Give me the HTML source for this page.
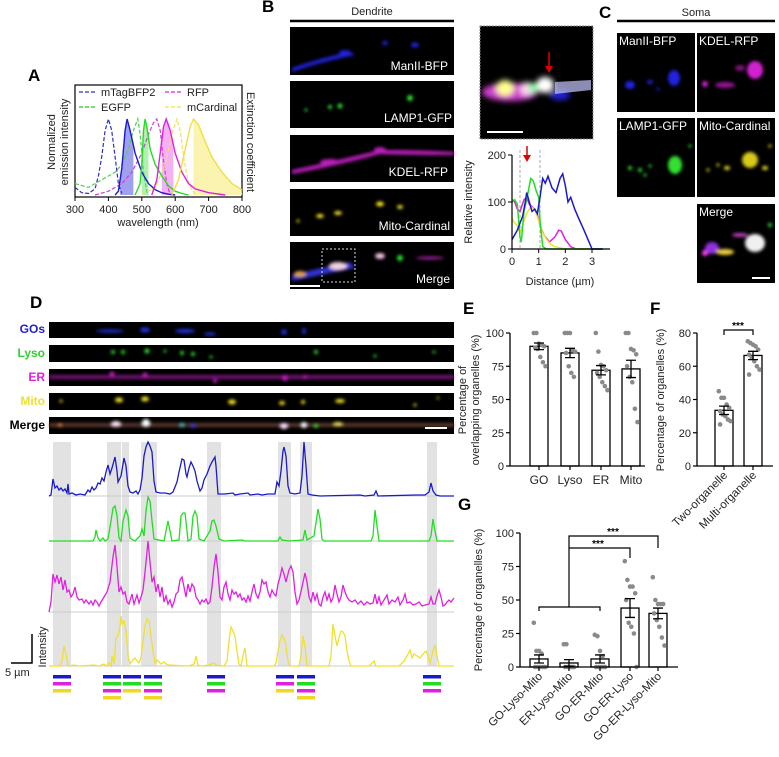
<!DOCTYPE html>
<html><head><meta charset="utf-8"><style>
html,body{margin:0;padding:0;background:#fff;}
svg{display:block;font-family:"Liberation Sans",Arial,sans-serif;}
.lbl{font-weight:bold;font-size:17px;}
.t{font-size:11px;fill:#222;}
.w{font-size:12px;fill:#fff;}
</style></head><body>
<svg id="fig" width="779" height="757" viewBox="0 0 779 757" xmlns="http://www.w3.org/2000/svg">
<defs><filter id="bl" x="-50%" y="-50%" width="200%" height="200%"><feGaussianBlur stdDeviation="1.6"/></filter>
<filter id="bl2" x="-50%" y="-50%" width="200%" height="200%"><feGaussianBlur stdDeviation="3"/></filter></defs>

<text class="lbl" x="28" y="81">A</text>
<text class="lbl" x="262" y="12">B</text>
<text class="lbl" x="599" y="18">C</text>
<text class="lbl" x="30" y="308">D</text>
<text class="lbl" x="463" y="314">E</text>
<text class="lbl" x="650" y="314">F</text>
<text class="lbl" x="458" y="510">G</text>

<g>
<rect x="75" y="85" width="167" height="112" fill="none" stroke="#000" stroke-width="1.2"/>
<g id="specA"></g>
<g>
<line x1="79" y1="92" x2="97" y2="92" stroke="#3030c0" stroke-width="1.3" stroke-dasharray="4,2"/>
<text class="t" x="101" y="96">mTagBFP2</text>
<line x1="79" y1="107" x2="97" y2="107" stroke="#22cc22" stroke-width="1.3" stroke-dasharray="4,2"/>
<text class="t" x="101" y="111">EGFP</text>
<line x1="165" y1="92" x2="182" y2="92" stroke="#e020e0" stroke-width="1.3" stroke-dasharray="4,2"/>
<text class="t" x="187" y="96">RFP</text>
<line x1="165" y1="107" x2="182" y2="107" stroke="#f0e040" stroke-width="1.3" stroke-dasharray="4,2"/>
<text class="t" x="187" y="111">mCardinal</text>
</g>
<text class="t" transform="translate(55,142) rotate(-90)" text-anchor="middle">Normalized</text>
<text class="t" transform="translate(68,142) rotate(-90)" text-anchor="middle">emission intensity</text>
<text class="t" transform="translate(247,142) rotate(90)" text-anchor="middle">Extinction coefficient</text>
<text class="t" x="158" y="226" text-anchor="middle">wavelength (nm)</text>
</g>

<g>
<text class="t" x="372" y="15" text-anchor="middle">Dendrite</text>
<line x1="290" y1="21" x2="454" y2="21" stroke="#000" stroke-width="2.5"/>
<g><rect x="290" y="27" width="164" height="48" fill="#000"/>
<g filter="url(#bl)" fill="#2020e0"><path d="M292 68 Q320 58 350 52 L355 55 Q320 62 292 72Z"/><ellipse cx="345" cy="53" rx="6" ry="3"/><ellipse cx="385" cy="43" rx="3" ry="2"/><ellipse cx="415" cy="45" rx="4" ry="2.5"/></g>
<text class="w" x="448" y="70" text-anchor="end">ManII-BFP</text></g>
<g><rect x="290" y="81" width="164" height="47" fill="#000"/>
<g filter="url(#bl)" fill="#30e030"><circle cx="306" cy="110" r="1.5"/><circle cx="330" cy="107" r="2"/><circle cx="340" cy="106" r="2.5"/><circle cx="410" cy="98" r="3"/></g>
<text class="w" x="452" y="122" text-anchor="end">LAMP1-GFP</text></g>
<g><rect x="290" y="135" width="164" height="47" fill="#000"/>
<g filter="url(#bl)" fill="#d020d0" opacity="0.9"><path d="M292 170 Q340 160 380 150 Q420 150 454 152 L454 155 Q400 155 380 154 Q340 165 292 174Z"/><ellipse cx="330" cy="162" rx="10" ry="3"/><ellipse cx="380" cy="150" rx="6" ry="3"/></g>
<text class="w" x="448" y="176" text-anchor="end">KDEL-RFP</text></g>
<g><rect x="290" y="189" width="164" height="47" fill="#000"/>
<g filter="url(#bl)" fill="#f0e020"><circle cx="298" cy="221" r="1.5"/><ellipse cx="320" cy="216" rx="4" ry="2"/><ellipse cx="338" cy="213" rx="4" ry="2"/><ellipse cx="380" cy="204" rx="4" ry="2.5"/><ellipse cx="400" cy="207" rx="3" ry="2"/></g>
<text class="w" x="450" y="230" text-anchor="end">Mito-Cardinal</text></g>
<g><rect x="290" y="242" width="164" height="47" fill="#000"/>
<g filter="url(#bl)"><path d="M292 275 Q320 268 350 262 L355 268 Q320 275 292 281Z" fill="#3030d0"/><ellipse cx="300" cy="274" rx="6" ry="3" fill="#e0a040"/><ellipse cx="338" cy="266" rx="9" ry="4" fill="#f0d0e0"/><ellipse cx="380" cy="256" rx="5" ry="3" fill="#f0c0e0"/><ellipse cx="400" cy="258" rx="3" ry="3" fill="#30e030"/><ellipse cx="430" cy="258" rx="14" ry="1.5" fill="#a020a0"/></g>
<rect x="322" y="249" width="33" height="33" fill="none" stroke="#ddd" stroke-dasharray="2,2"/>
<line x1="290" y1="286" x2="320" y2="286" stroke="#fff" stroke-width="2"/>
<text class="w" x="450" y="283" text-anchor="end">Merge</text></g>
<g><rect x="480" y="26" width="113" height="113" fill="#000" stroke="#888" stroke-dasharray="2,1"/>
<g filter="url(#bl2)"><ellipse cx="510" cy="92" rx="28" ry="9" fill="#d040d0"/><ellipse cx="505" cy="88" rx="9" ry="8" fill="#ffff90"/><ellipse cx="527" cy="89" rx="7" ry="7" fill="#ffd0f0"/><ellipse cx="545" cy="85" rx="9" ry="8" fill="#ffffff"/><ellipse cx="560" cy="95" rx="10" ry="5" fill="#2020e0"/><ellipse cx="533" cy="88" rx="5" ry="5" fill="#80ffa0"/></g>
<polygon points="555,82 591,80 591,90 555,94" fill="#c8c8ff" opacity="0.7"/>
<line x1="549" y1="52" x2="549" y2="70" stroke="#e00000" stroke-width="1.5"/><polygon points="545,66 553,66 549,73" fill="#e00000"/>
<line x1="487" y1="132" x2="523" y2="132" stroke="#fff" stroke-width="2"/></g>
<g id="profB"></g>
<text class="t" transform="translate(472,202) rotate(-90)" text-anchor="middle">Relative intensity</text>
<text class="t" x="560" y="285" text-anchor="middle">Distance (µm)</text>
<line x1="527" y1="146" x2="527" y2="159" stroke="#e00000" stroke-width="1.5"/>
<polygon points="523,155 531,155 527,162" fill="#e00000"/>
</g>

<g>
<text class="t" x="696" y="16" text-anchor="middle">Soma</text>
<line x1="617" y1="21" x2="775" y2="21" stroke="#000" stroke-width="2.5"/>
<g><rect x="617" y="33" width="78" height="79" fill="#000"/>
<g filter="url(#bl)" fill="#2020e0"><ellipse cx="630" cy="85" rx="5" ry="4"/><ellipse cx="674" cy="78" rx="6" ry="8"/><ellipse cx="650" cy="82" rx="3" ry="2"/><circle cx="658" cy="89" r="1.5"/></g>
<text class="w" x="619" y="45">ManII-BFP</text></g>
<g><rect x="697" y="33" width="78" height="79" fill="#000"/>
<g filter="url(#bl)" fill="#d020d0"><circle cx="705" cy="84" r="3"/><ellipse cx="755" cy="70" rx="8" ry="9"/><ellipse cx="725" cy="85" rx="10" ry="3" opacity="0.7"/><ellipse cx="740" cy="68" rx="5" ry="3" opacity="0.6"/></g>
<text class="w" x="699" y="45">KDEL-RFP</text></g>
<g><rect x="617" y="118" width="78" height="79" fill="#000"/>
<g filter="url(#bl)" fill="#30e030"><circle cx="630" cy="168" r="2"/><circle cx="640" cy="170" r="2"/><circle cx="650" cy="166" r="1.5"/><ellipse cx="675" cy="165" rx="7" ry="9"/><circle cx="690" cy="146" r="1.5"/><circle cx="645" cy="175" r="1.5"/></g>
<text class="w" x="619" y="130">LAMP1-GFP</text></g>
<g><rect x="697" y="118" width="78" height="79" fill="#000"/>
<g filter="url(#bl)" fill="#f0e020"><circle cx="708" cy="170" r="1.5"/><circle cx="718" cy="165" r="1.5"/><ellipse cx="727" cy="168" rx="3" ry="2"/><ellipse cx="750" cy="160" rx="8" ry="8" opacity="0.9"/><ellipse cx="765" cy="168" rx="3" ry="2"/><circle cx="770" cy="146" r="1.5"/></g>
<text class="w" x="699" y="130">Mito-Cardinal</text></g>
<g><rect x="697" y="204" width="78" height="79" fill="#000"/>
<g filter="url(#bl)"><ellipse cx="712" cy="248" rx="7" ry="6" fill="#9030e0"/><ellipse cx="705" cy="253" rx="3" ry="3" fill="#ff40ff"/><ellipse cx="755" cy="243" rx="10" ry="9" fill="#f0f0f0"/><ellipse cx="725" cy="252" rx="9" ry="3" fill="#f0d040"/><circle cx="770" cy="225" r="2" fill="#30e030"/><ellipse cx="740" cy="235" rx="8" ry="2" fill="#c040c0"/></g>
<line x1="752" y1="278" x2="770" y2="278" stroke="#fff" stroke-width="2"/>
<text class="w" x="699" y="216">Merge</text></g>
</g>

<g>
<text x="45" y="333" text-anchor="end" font-size="12" font-weight="bold" fill="#2020d0">GOs</text>
<text x="45" y="357" text-anchor="end" font-size="12" font-weight="bold" fill="#30d030">Lyso</text>
<text x="45" y="381" text-anchor="end" font-size="12" font-weight="bold" fill="#e020e0">ER</text>
<text x="45" y="405" text-anchor="end" font-size="12" font-weight="bold" fill="#f0e030">Mito</text>
<text x="45" y="429" text-anchor="end" font-size="12" font-weight="bold" fill="#000">Merge</text>
<g><rect x="49" y="322" width="405" height="16" fill="#000"/>
<g filter="url(#bl)" fill="#2030e0"><ellipse cx="110" cy="331" rx="14" ry="1.5"/><ellipse cx="145" cy="330" rx="5" ry="2.5"/><ellipse cx="185" cy="331" rx="10" ry="2"/><ellipse cx="210" cy="334" rx="6" ry="1.5"/><ellipse cx="284" cy="332" rx="3" ry="2.5"/><ellipse cx="304" cy="331" rx="2" ry="3"/></g></g>
<g><rect x="49" y="345" width="405" height="17" fill="#000"/>
<g filter="url(#bl)" fill="#30e030"><circle cx="113" cy="352" r="2"/><circle cx="123" cy="352" r="2"/><circle cx="147" cy="351" r="2.5"/><circle cx="165" cy="351" r="1.5"/><circle cx="182" cy="353" r="2"/><circle cx="193" cy="354" r="2"/><circle cx="211" cy="357" r="1.5"/><circle cx="316" cy="352" r="2"/><circle cx="375" cy="356" r="1.5"/><circle cx="434" cy="352" r="1.5"/></g></g>
<g><rect x="49" y="369" width="405" height="17" fill="#000"/>
<g filter="url(#bl)" fill="#c020c0"><rect x="49" y="375" width="405" height="4" opacity="0.6"/><circle cx="112" cy="374" r="2.5"/><circle cx="145" cy="375" r="2.5"/><circle cx="215" cy="381" r="2"/><circle cx="285" cy="378" r="3"/><circle cx="305" cy="377" r="2"/></g></g>
<g><rect x="49" y="393" width="405" height="17" fill="#000"/>
<g filter="url(#bl)" fill="#f0e020"><circle cx="61" cy="401" r="1.5"/><ellipse cx="119" cy="400" rx="4" ry="2.5"/><ellipse cx="145" cy="399" rx="4" ry="2.5"/><ellipse cx="232" cy="402" rx="4" ry="2.5"/><ellipse cx="282" cy="403" rx="3" ry="2"/><circle cx="303" cy="402" r="2"/><ellipse cx="340" cy="401" rx="5" ry="2"/><circle cx="415" cy="405" r="1.5"/><circle cx="438" cy="398" r="1.2"/></g></g>
<g><rect x="49" y="417" width="405" height="17" fill="#000"/>
<g filter="url(#bl)"><rect x="49" y="423" width="405" height="4" fill="#805040" opacity="0.7"/><circle cx="60" cy="425" r="2" fill="#e08040"/><ellipse cx="116" cy="424" rx="5" ry="3" fill="#ffe0f0"/><ellipse cx="146" cy="423" rx="4" ry="4" fill="#ffffff"/><circle cx="182" cy="425" r="2" fill="#30e0e0"/><circle cx="193" cy="426" r="2" fill="#2040ff"/><ellipse cx="284" cy="426" rx="4" ry="3" fill="#ffe0ff"/><ellipse cx="304" cy="425" rx="3" ry="3" fill="#ffffff"/><ellipse cx="338" cy="424" rx="5" ry="2" fill="#f0e060"/><circle cx="316" cy="426" r="2" fill="#30e030"/></g>
<line x1="425" y1="428" x2="447" y2="428" stroke="#fff" stroke-width="2"/></g>
</g>
<g id="traceD"></g>
<g>
<polyline points="32,634 32,663 11,663" fill="none" stroke="#000" stroke-width="1.5"/>
<text class="t" x="5" y="676">5 µm</text>
<text class="t" transform="translate(46,647) rotate(-90)" text-anchor="middle">Intensity</text>
</g>

<g id="barE"></g>
<text class="t" transform="translate(466,400) rotate(-90)" text-anchor="middle">Percentage of</text>
<text class="t" transform="translate(479,400) rotate(-90)" text-anchor="middle">overlapping organelles (%)</text>
<g id="barF"></g>
<text class="t" transform="translate(664,400) rotate(-90)" text-anchor="middle">Percentage of organelles (%)</text>
<g id="barG"></g>
<text class="t" transform="translate(482,600) rotate(-90)" text-anchor="middle">Percentage of organelles (%)</text>
</svg>
<script>
const bfpEmWl=[420,430,440,450,456,465,480,500,520,540,560,580,600];
const bfpEmV=[0,0.05,0.35,0.85,1,0.85,0.55,0.3,0.15,0.07,0.03,0.01,0];
const bfpExWl=[300,320,340,360,370,380,390,400,410,420,430,440];
const bfpExV=[0.1,0.03,0.02,0.08,0.25,0.5,0.85,1,0.85,0.5,0.15,0.02];
const gfpEmWl=[480,495,500,505,510,515,525,540,560,580,600,620,640];
const gfpEmV=[0,0.15,0.4,0.85,1,0.9,0.6,0.4,0.25,0.12,0.05,0.02,0];
const gfpExWl=[300,340,380,420,440,460,475,488,495,505,515,520];
const gfpExV=[0.15,0.1,0.2,0.3,0.4,0.6,0.85,1,0.8,0.3,0.05,0];
const rfpEmWl=[530,545,555,565,573,585,600,620,640,660,700,750];
const rfpEmV=[0,0.2,0.55,0.9,1,0.85,0.55,0.3,0.15,0.08,0.03,0];
const rfpExWl=[360,400,440,470,500,520,535,545,555,565,575,585];
const rfpExV=[0,0.05,0.15,0.3,0.55,0.8,0.95,1,0.85,0.45,0.15,0];
const carEmWl=[590,610,630,645,655,670,690,710,740,770,800];
const carEmV=[0,0.2,0.6,0.9,1,0.92,0.7,0.5,0.3,0.15,0.07];
const carExWl=[500,540,570,590,605,615,625,640,660];
const carExV=[0,0.1,0.4,0.8,1,0.85,0.5,0.15,0];
const bandsA=[[435,475],[500,520],[560,595],[655,800]];
const wlTicks=[300,400,500,600,700,800];

const pBlueD=[0,0.2,0.4,0.5,0.55,0.65,0.75,0.85,0.95,1.05,1.15,1.25,1.35,1.5,1.65,1.8,1.9,2.0,2.1,2.2,2.35,2.5,2.7,2.85,3.0,3.4];
const pBlueV=[20,40,70,100,120,100,80,85,75,110,150,140,155,130,120,150,160,135,100,110,85,65,40,20,0,0];
const pGreenD=[0,0.1,0.2,0.3,0.35,0.45,0.55,0.7,0.8,0.9,1.0,1.05,1.15,1.3,3.4];
const pGreenV=[100,105,95,25,15,80,105,150,145,125,110,60,5,0,0];
const pMagD=[0,0.1,0.2,0.3,0.45,0.55,0.65,0.75,0.85,0.95,1.05,1.2,1.4,1.6,1.75,1.85,2.0,2.2,2.4,3.4];
const pMagV=[105,100,85,80,105,110,95,90,85,75,50,30,15,25,40,38,20,5,0,0];
const pYelD=[0,0.1,0.2,0.3,0.45,0.55,0.7,0.85,1.0,1.15,1.3,1.45,1.6,2.0,3.4];
const pYelV=[65,55,50,35,60,75,90,85,60,35,20,10,5,0,0];
const profXTicks=[0,1,2,3];
const profYTicks=[0,100,200];
const profGuides=[0.3,1.05];

const dBlueS=[0,2,4,6,8,10,12,14,16,18,19,20,23,27,31,36,39,41,43,45,47,49,51,53,55,57,59,61,63,66,68,69,72,75,77,79,81,84,87,89,91,93,95,97,99,101,103,105,107,111,116,121,124,126,128,130,133,135,137,138,140,142,144,146,148,151,153,155,158,161,163,166,167,169,176,184,186,191,199,201,209,213,219,226,228,230,232,234,235,237,239,241,246,251,253,255,257,259,263,271,311,316,325,327,329,367,376,380,382,384,387,391,405];
const dBlueV=[0,1,17,8,10,6,8,5,7,3,12,2,3,1,2,1,6,4,9,6,8,13,12,18,15,24,31,22,28,39,25,14,20,38,30,10,4,3,5,2,6,18,40,49,54,50,44,15,4,3,3,2,4,9,14,24,37,36,22,19,28,34,30,25,15,5,8,16,22,30,34,39,30,2,2,3,1,2,3,1,2,1,2,2,14,10,25,45,49,40,10,3,2,3,20,54,30,2,1,0,1,0,1,5,0,1,1,4,13,5,1,0,0];
const dGreenS=[0,44,46,47,49,51,54,56,59,62,64,66,68,70,72,74,77,79,81,86,91,93,95,97,99,101,103,105,115,117,119,121,123,130,132,134,136,138,139,142,144,146,148,150,155,161,163,165,167,170,175,193,196,229,231,233,240,254,256,258,265,268,269,271,273,275,322,324,326,328,330,380,382,384,386,388,405];
const dGreenV=[0,0,4,11,3,0,3,0,2,20,33,35,25,3,0,20,31,25,3,0,5,12,5,30,44,40,20,2,0,10,20,10,0,1,25,28,28,10,0,2,25,30,25,2,0,10,20,21,15,2,0,1,0,0,4,1,0,1,11,1,5,25,32,22,2,0,0,5,31,15,0,0,5,22,10,0,0];
const dMagS=[0,2,4,6,8,10,12,14,16,18,20,22,24,26,28,30,33,35,37,40,42,44,46,48,50,52,55,58,61,64,66,68,70,72,74,76,78,80,83,85,88,90,92,94,96,98,99,101,103,105,107,109,111,113,115,117,119,121,123,125,127,129,131,133,135,137,139,141,143,145,147,149,151,153,155,157,159,161,163,165,167,169,171,173,175,177,179,181,183,185,187,189,191,193,195,197,199,201,203,205,207,209,211,213,215,217,219,221,223,225,227,229,231,233,235,237,240,242,244,246,248,250,253,256,258,260,262,264,266,268,270,272,274,276,278,280,282,284,286,288,290,292,294,296,298,300,303,306,309,312,315,318,321,324,326,328,330,332,335,338,340,343,346,349,351,354,356,358,361,364,367,370,373,376,380,382,384,386,388,390,392,394,396,398,400,402,405];
const dMagV=[0,10,38,30,37,28,35,22,32,20,22,15,18,25,15,12,13,9,12,8,11,7,12,10,6,10,15,20,30,55,67,45,20,25,18,20,10,8,18,8,17,9,15,22,40,60,71,50,30,35,20,28,15,25,10,16,8,12,5,10,18,20,32,35,25,15,28,20,28,25,15,12,8,12,10,13,8,10,25,45,58,40,15,12,25,30,18,12,22,18,20,15,18,12,14,10,16,11,20,28,18,14,20,32,28,30,20,15,22,18,16,28,35,44,38,30,42,46,40,20,8,12,25,39,30,15,10,20,12,18,8,6,15,20,12,18,10,14,27,18,10,15,27,20,15,12,10,12,8,11,7,10,8,9,18,8,15,7,12,17,8,12,10,15,7,12,18,9,10,7,8,10,6,7,8,15,8,8,16,22,15,6,7,10,12,10,14];
const dYelS=[0,11,13,15,17,19,25,30,45,50,55,57,60,62,63,65,67,69,71,72,73,75,77,79,81,83,86,88,90,92,94,96,98,100,102,104,106,108,110,112,115,117,120,140,145,147,149,152,160,165,167,175,178,180,182,184,186,188,190,192,195,196,197,198,225,227,229,231,233,235,237,239,241,250,252,254,256,258,280,282,284,286,288,290,292,294,296,298,300,302,320,325,327,350,355,358,361,363,365,368,371,374,377,379,381,384,386,388,390,405];
const dYelV=[0,0,5,20,12,0,1,0,1,0,2,0,3,0,10,2,28,30,40,50,42,45,35,10,2,5,8,5,3,8,25,40,47,45,30,15,3,6,4,2,4,2,1,0,2,10,1,0,1,3,1,0,5,25,39,35,30,15,2,0,15,18,8,0,0,3,15,25,31,28,20,5,0,0,10,30,20,0,0,10,42,30,20,28,35,34,30,15,5,0,0,5,0,0,5,10,16,8,12,10,8,12,15,10,3,15,21,10,0,0];
const overlapStart=[4,58,73,92,158,229,251,378];
const overlapEnd=[22,72,80,108,172,242,263,388];
const groupStart=[4,54,74,95,158,227,248,374];
const groupChannels=[[1,0,1,1],[1,1,1,1],[1,1,0,1],[1,1,1,1],[1,1,1,0],[1,0,1,1],[1,1,1,1],[1,1,1,0]];

const eCats=['GO','Lyso','ER','Mito'];
const eMeans=[90,85,72,73];
const eSem=[2.5,3.5,3.5,6.5];
const ePts=[[100,100,92,91,90,89,88,82,78,75],[100,100,100,87,86,85,75,70,67],[100,86,76,75,72,70,67,63,60,57],[100,100,88,87,84,75,67,63,43,33]];
const eTicks=[0,25,50,75,100];
const fCats=['Two-organelle','Multi-organelle'];
const fMeans=[33.5,66.5];
const fSem=[2.5,2.5];
const fPts=[[45,41,41,37,35,33,31,30,28,27,25],[75,74,73,72,70,67,65,63,60,58,55]];
const fTicks=[0,20,40,60,80];
const gCats=['GO-Lyso-Mito','ER-Lyso-Mito','GO-ER-Mito','GO-ER-Lyso','GO-ER-Lyso-Mito'];
const gMeans=[6,3,6,44,40];
const gSem=[3,2.5,3,7,4];
const gPts=[[33,12,12,10,0,0,0,0,0,0],[17,17,0,0,0,0,0,0,0],[24,23,12,8,0,0,0,0,0],[79,65,60,60,55,50,33,30,25,0],[67,50,47,47,47,40,35,30,22,16]];
const gTicks=[0,25,50,75,100];

const NS='http://www.w3.org/2000/svg';
function add(tag,attrs,parent){const e=document.createElementNS(NS,tag);for(const k in attrs)e.setAttribute(k,attrs[k]);parent.appendChild(e);return e;}
function pathOf(xs,ys,fx,fy){return xs.map((v,i)=>(i?'L':'M')+fx(v).toFixed(1)+' '+fy(ys[i]).toFixed(1)).join(' ');}
function interp(xs,ys,x){if(x<=xs[0])return ys[0];for(let i=1;i<xs.length;i++){if(x<=xs[i]){const t=(x-xs[i-1])/(xs[i]-xs[i-1]);return ys[i-1]+t*(ys[i]-ys[i-1]);}}return ys[ys.length-1];}

const gA=document.getElementById('specA');
const xA=w=>75+(w-300)*167/500, yA=v=>195-v*76;
const emis=[[bfpEmWl,bfpEmV,'#1a1ad0','#a0a0f0'],[gfpEmWl,gfpEmV,'#20dd20','#b0f0b0'],[rfpEmWl,rfpEmV,'#e020e0','#f5b0f5'],[carEmWl,carEmV,'#f0e040','#fbf3b0']];
emis.forEach((s,i)=>{const b=bandsA[i];const xs=[b[0]];const ys=[0];for(let w=b[0];w<=b[1];w+=2){xs.push(w);ys.push(interp(s[0],s[1],w));}xs.push(b[1]);ys.push(0);
 const p=add('path',{d:pathOf(xs,ys,xA,yA)+'Z',fill:s[3],stroke:'none'},gA);
 
 });
const exc=[[bfpExWl,bfpExV,'#3030c0'],[gfpExWl,gfpExV,'#50d050'],[rfpExWl,rfpExV,'#d040d0'],[carExWl,carExV,'#f0e060']];
exc.forEach(s=>{const p=add('path',{d:pathOf(s[0],s[1],xA,yA),fill:'none',stroke:s[2],'stroke-width':1.2,'stroke-dasharray':'4,2'},gA);
 
 });
emis.forEach(s=>{const p=add('path',{d:pathOf(s[0],s[1],xA,yA),fill:'none',stroke:s[2],'stroke-width':1.4},gA);
 
 });
wlTicks.forEach(w=>{const l=add('line',{x1:xA(w),x2:xA(w),y1:197,y2:201,stroke:'#000'},gA);
 
 
 const t=add('text',{x:xA(w),y:213,'text-anchor':'middle','class':'t'},gA);t.textContent=w;
 
 });

const gB=document.getElementById('profB');
const xB=d=>512+d*80/3, yB=v=>249-v*0.47;
profGuides.forEach(d=>{const l=add('line',{x1:xB(d),x2:xB(d),y1:150,y2:249,stroke:'#aaa','stroke-dasharray':'3,2'},gB);
 
 });
[[pMagD,pMagV,'#e020e0'],[pYelD,pYelV,'#f0e030'],[pGreenD,pGreenV,'#20dd20'],[pBlueD,pBlueV,'#1a1acc']].forEach(s=>{
 const p=add('path',{d:pathOf(s[0],s[1],xB,yB),fill:'none',stroke:s[2],'stroke-width':1.5},gB);
 
 });
const axB=add('path',{d:'M512 155 L512 249 L610 249',fill:'none',stroke:'#000','stroke-width':1.2},gB);


profYTicks.forEach(v=>{const l=add('line',{x1:508,x2:512,y1:yB(v),y2:yB(v),stroke:'#000'},gB);
 
 
 const t=add('text',{x:506,y:yB(v)+4,'text-anchor':'end','class':'t'},gB);t.textContent=v;
 
 });
profXTicks.forEach(d=>{const l=add('line',{x1:xB(d),x2:xB(d),y1:249,y2:253,stroke:'#000'},gB);
 
 
 const t=add('text',{x:xB(d),y:265,'text-anchor':'middle','class':'t'},gB);t.textContent=d;
 
 });

const gD=document.getElementById('traceD');
const xD=s=>49+s;
overlapStart.forEach((s,i)=>{const r=add('rect',{x:xD(s),y:442,width:overlapEnd[i]-s,height:224,fill:'#e2e2e2'},gD);
 
 });
const chans=[[dBlueS,dBlueV,496,'#1a1acc'],[dGreenS,dGreenV,541,'#22dd22'],[dMagS,dMagV,612,'#e020e0'],[dYelS,dYelV,666,'#f0e030']];
chans.forEach(c=>{const base=add('line',{x1:49,x2:454,y1:c[2],y2:c[2],stroke:'#ccc','stroke-width':1},gD);
 
 
 const p=add('path',{d:pathOf(c[0],c[1],xD,v=>c[2]-v),fill:'none',stroke:c[3],'stroke-width':1.3},gD);
 
 });
const chCol=['#1a1acc','#22dd22','#e020e0','#f0d820'];
groupStart.forEach((s,i)=>{let row=0;groupChannels[i].forEach((on,c)=>{if(!on)return;
 const r=add('rect',{x:xD(s),y:675+row*7,width:18,height:3.5,fill:chCol[c]},gD);
 
 row++;});});

function barChart(g,cats,means,sem,pts,ticks,ax,y0,yTop,vmax,xs,xEnd,bw,rot){
 const y=v=>y0-v*(y0-yTop)/vmax;
 means.forEach((m,i)=>{const r=add('rect',{x:xs[i]-bw/2,y:y(m),width:bw,height:y0-y(m),fill:'#fff',stroke:'#000','stroke-width':1.3},g);
  
  });
 pts.forEach((arr,i)=>arr.forEach((v,j)=>{const off=((j%5)-2)*2.6+(j>=5?1.3:0);
  const c=add('circle',{cx:xs[i]+off,cy:y(v),r:2.3,fill:'#8a8a8a'},g);
  
  }));
 means.forEach((m,i)=>{const e=add('path',{d:`M${xs[i]} ${y(m-sem[i])} L${xs[i]} ${y(m+sem[i])} M${xs[i]-5} ${y(m+sem[i])} L${xs[i]+5} ${y(m+sem[i])} M${xs[i]-5} ${y(m-sem[i])} L${xs[i]+5} ${y(m-sem[i])}`,stroke:'#000','stroke-width':1.3,fill:'none'},g);
  
  });
 const a=add('path',{d:`M${ax} ${yTop} L${ax} ${y0} L${xEnd} ${y0}`,fill:'none',stroke:'#000','stroke-width':1.3},g);
 
 
 ticks.forEach(v=>{const l=add('line',{x1:ax-4,x2:ax,y1:y(v),y2:y(v),stroke:'#000','stroke-width':1.2},g);
  
  
  const t=add('text',{x:ax-6,y:y(v)+4,'text-anchor':'end','font-size':11,fill:'#222'},g);t.textContent=v;
  
  });
 cats.forEach((c,i)=>{const l=add('line',{x1:xs[i],x2:xs[i],y1:y0,y2:y0+4,stroke:'#000','stroke-width':1.2},g);
  
  
  let t;
  if(rot){t=add('text',{transform:`translate(${xs[i]+4},${y0+10}) rotate(-45)`,'text-anchor':'end','font-size':11.5,fill:'#222'},g);}
  else{t=add('text',{x:xs[i],y:y0+18,'text-anchor':'middle','font-size':12,fill:'#222'},g);}
  t.textContent=c;
  
  });
 return y;
}
const gE=document.getElementById('barE');
barChart(gE,eCats,eMeans,eSem,ePts,eTicks,510,466,333,100,[539,570,601,631],645,18,false);
const gF=document.getElementById('barF');
barChart(gF,fCats,fMeans,fSem,fPts,fTicks,697,466,333,80,[724,753],773,18,true);
const fb=add('path',{d:'M724 335 L724 330 L753 330 L753 335',fill:'none',stroke:'#000','stroke-width':1.2},gF);


const fs=add('text',{x:738,y:329,'text-anchor':'middle','font-size':10,'font-weight':'bold'},gF);fs.textContent='***';


const gG=document.getElementById('barG');
barChart(gG,gCats,gMeans,gSem,gPts,gTicks,520,667,533,100,[539,569,600,630,658],678,18,true);
const gb=add('path',{d:'M539 611 L539 607 L600 607 L600 611 M569 607 L569 536 L658 536 L658 548 M569 548 L630 548 L630 558',fill:'none',stroke:'#000','stroke-width':1.2},gG);


const s1=add('text',{x:613,y:535,'text-anchor':'middle','font-size':10,'font-weight':'bold'},gG);s1.textContent='***';


const s2=add('text',{x:598,y:547,'text-anchor':'middle','font-size':10,'font-weight':'bold'},gG);s2.textContent='***';


</script>
</body></html>
